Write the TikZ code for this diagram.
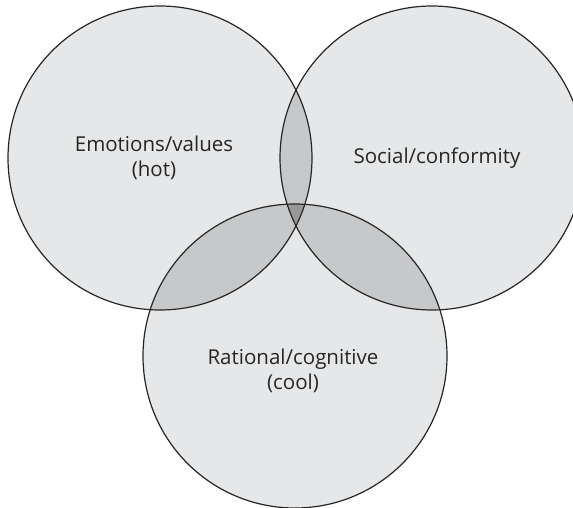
\documentclass[tikz,border=0pt]{standalone}
\usepackage{fontspec}
\setmainfont{Open Sans}
\usetikzlibrary{positioning}

\definecolor{setgray}{HTML}{E6E7E8}
\definecolor{pairgray}{HTML}{C7C8CA}
\definecolor{coregray}{HTML}{97989A}

\begin{document}
\begin{tikzpicture}[
    x=1pt, y=-1pt,
    set/.style={circle, draw=black!85, line width=1.2pt, minimum size=304pt, inner sep=0pt},
    settext/.style={align=center, font=\fontsize{20.5}{25}\selectfont, text=black!85}
]
    \useasboundingbox (0,0) rectangle (573,507);
    \clip (0,0) rectangle (573,507);

    \coordinate (emo) at (160,158);
    \coordinate (soc) at (432,158);
    \coordinate (rat) at (295,356);

    % plain discs
    \fill[setgray] (emo) circle (152);
    \fill[setgray] (soc) circle (152);
    \fill[setgray] (rat) circle (152);

    % pairwise overlaps
    \begin{scope}
        \clip (emo) circle (152);
        \fill[pairgray] (soc) circle (152);
        \fill[pairgray] (rat) circle (152);
    \end{scope}
    \begin{scope}
        \clip (soc) circle (152);
        \fill[pairgray] (rat) circle (152);
    \end{scope}

    % all three
    \begin{scope}
        \clip (emo) circle (152);
        \clip (soc) circle (152);
        \fill[coregray] (rat) circle (152);
    \end{scope}

    % outlines
    \node[set] (emoset) at (emo) {};
    \node[set] (socset) at (soc) {};
    \node[set] (ratset) at (rat) {};

    \node[settext] (emotext) at (154,158) {Emotions/values\\(hot)};
    \node[settext] (soctext) at (437,158) {Social/conformity};
    \node[settext] (rattext) at (293,371) {Rational/cognitive\\(cool)};
\end{tikzpicture}
\end{document}
